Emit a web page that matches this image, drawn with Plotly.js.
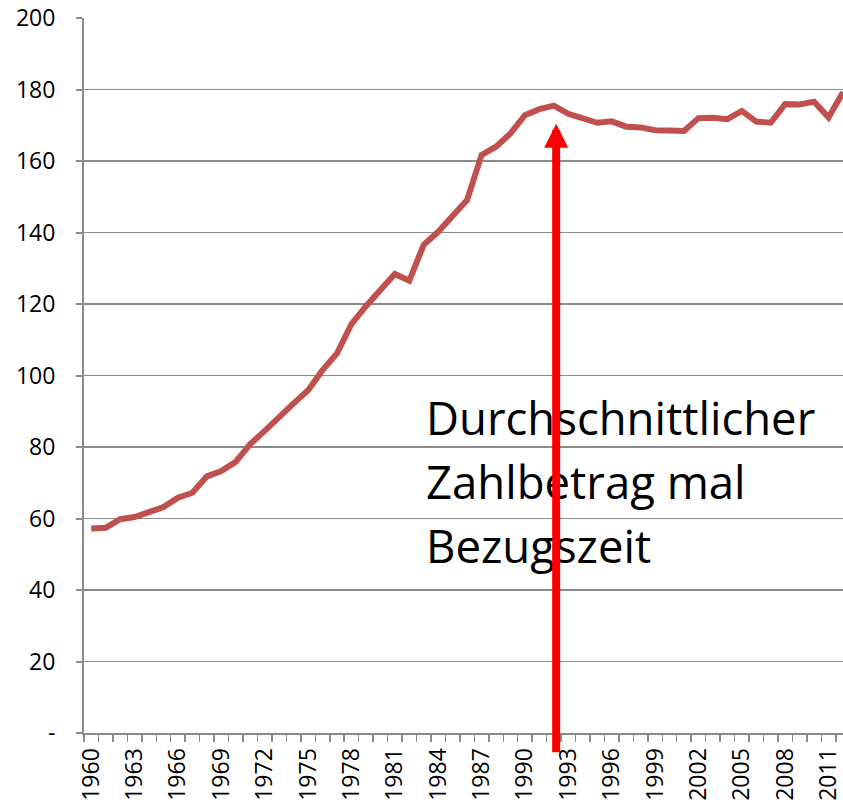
<!DOCTYPE html>
<html>
<head>
<meta charset="utf-8">
<script src="https://cdn.plot.ly/plotly-3.0.1.min.js"></script>
<style>
  html, body { margin: 0; padding: 0; background: #ffffff; }
  #chart { width: 843px; height: 805px; }
</style>
</head>
<body>
<div id="chart"></div>
<script>
// Years (categories)
const years = [1960,1961,1962,1963,1964,1965,1966,1967,1968,1969,
               1970,1971,1972,1973,1974,1975,1976,1977,1978,1979,
               1980,1981,1982,1983,1984,1985,1986,1987,1988,1989,
               1990,1991,1992,1993,1994,1995,1996,1997,1998,1999,
               2000,2001,2002,2003,2004,2005,2006,2007,2008,2009,
               2010,2011,2012];
// Series values
const values = [57.2,57.4,59.8,60.4,61.8,63.2,65.8,67.2,71.8,73.3,
                75.9,80.8,84.5,88.5,92.2,95.9,101.5,106.2,114.4,119.4,
                124.1,128.4,126.5,136.6,140.2,144.6,149.1,161.7,164.0,167.7,
                172.8,174.5,175.5,173.2,171.9,170.7,171.1,169.6,169.4,168.6,
                168.5,168.4,172.0,172.1,171.7,174.0,171.0,170.7,175.9,175.8,
                176.6,172.2,179.2];
// Tick labels
const xTickVals = [1960,1963,1966,1969,1972,1975,1978,1981,1984,1987,1990,1993,1996,1999,2002,2005,2008,2011];
const xTickText = xTickVals.map(String);
const yTickVals = [0,20,40,60,80,100,120,140,160,180,200];
const yTickText = ['-','20','40','60','80','100','120','140','160','180','200'];
// Annotation text lines
const labelLines = ['Durchschnittlicher', 'Zahlbetrag mal', 'Bezugszeit'];
const labelY = [88.3, 70.6, 52.5];
const labelX = 1983.05;
// Arrow (year position, tip value, tail value)
const arrowX = 1992.16;
const arrowTip = 170.4;
const arrowTail = -5.8;

const FONT = 'Open Sans, Liberation Sans, Arial, sans-serif';
const GRID = '#8a8a8a';

const annotations = labelLines.map((t, i) => ({
  x: labelX, y: labelY[i], xref: 'x', yref: 'y',
  text: t, showarrow: false, xanchor: 'left', yanchor: 'middle',
  font: { family: FONT, size: 45.5, color: '#000000' }
}));
annotations.push({
  x: arrowX, y: arrowTip, xref: 'x', yref: 'y',
  ax: arrowX, ay: arrowTail, axref: 'x', ayref: 'y',
  text: '', showarrow: true,
  arrowhead: 2, arrowsize: 0.6, arrowwidth: 8, arrowcolor: '#ff0000'
});

const trace = {
  x: years, y: values, type: 'scatter', mode: 'lines',
  line: { color: '#c0504d', width: 6 },
  hoverinfo: 'skip'
};

const layout = {
  width: 843, height: 805,
  margin: { l: 84, r: 0, t: 18, b: 72 },
  paper_bgcolor: '#ffffff', plot_bgcolor: '#ffffff',
  showlegend: false,
  font: { family: FONT, size: 23, color: '#000000' },
  xaxis: {
    type: 'linear',
    range: [1959.5, 2012.0],
    tickmode: 'array', tickvals: xTickVals, ticktext: xTickText,
    tickangle: -90,
    ticks: '', showgrid: false, zeroline: false,
    showline: true, linecolor: GRID, linewidth: 2,
    ticklabelstandoff: 4,
    ticklabeloverflow: 'allow',
    tickfont: { family: FONT, size: 23, color: '#000000' },
    minor: { tickmode: 'linear', tick0: 1959.5, dtick: 1, ticks: 'outside', ticklen: 7, tickwidth: 1.5, tickcolor: GRID, showgrid: false }
  },
  yaxis: {
    range: [0, 200],
    tickmode: 'array', tickvals: yTickVals, ticktext: yTickText,
    ticks: 'outside', ticklen: 6, tickwidth: 2, tickcolor: GRID,
    showgrid: true, gridcolor: GRID, gridwidth: 1.5,
    zeroline: false,
    showline: true, linecolor: GRID, linewidth: 2,
    ticklabelstandoff: 16,
    tickfont: { family: FONT, size: 23, color: '#000000' }
  },
  annotations: annotations
};

Plotly.newPlot('chart', [trace], layout, { staticPlot: true, displayModeBar: false });
</script>
</body>
</html>
